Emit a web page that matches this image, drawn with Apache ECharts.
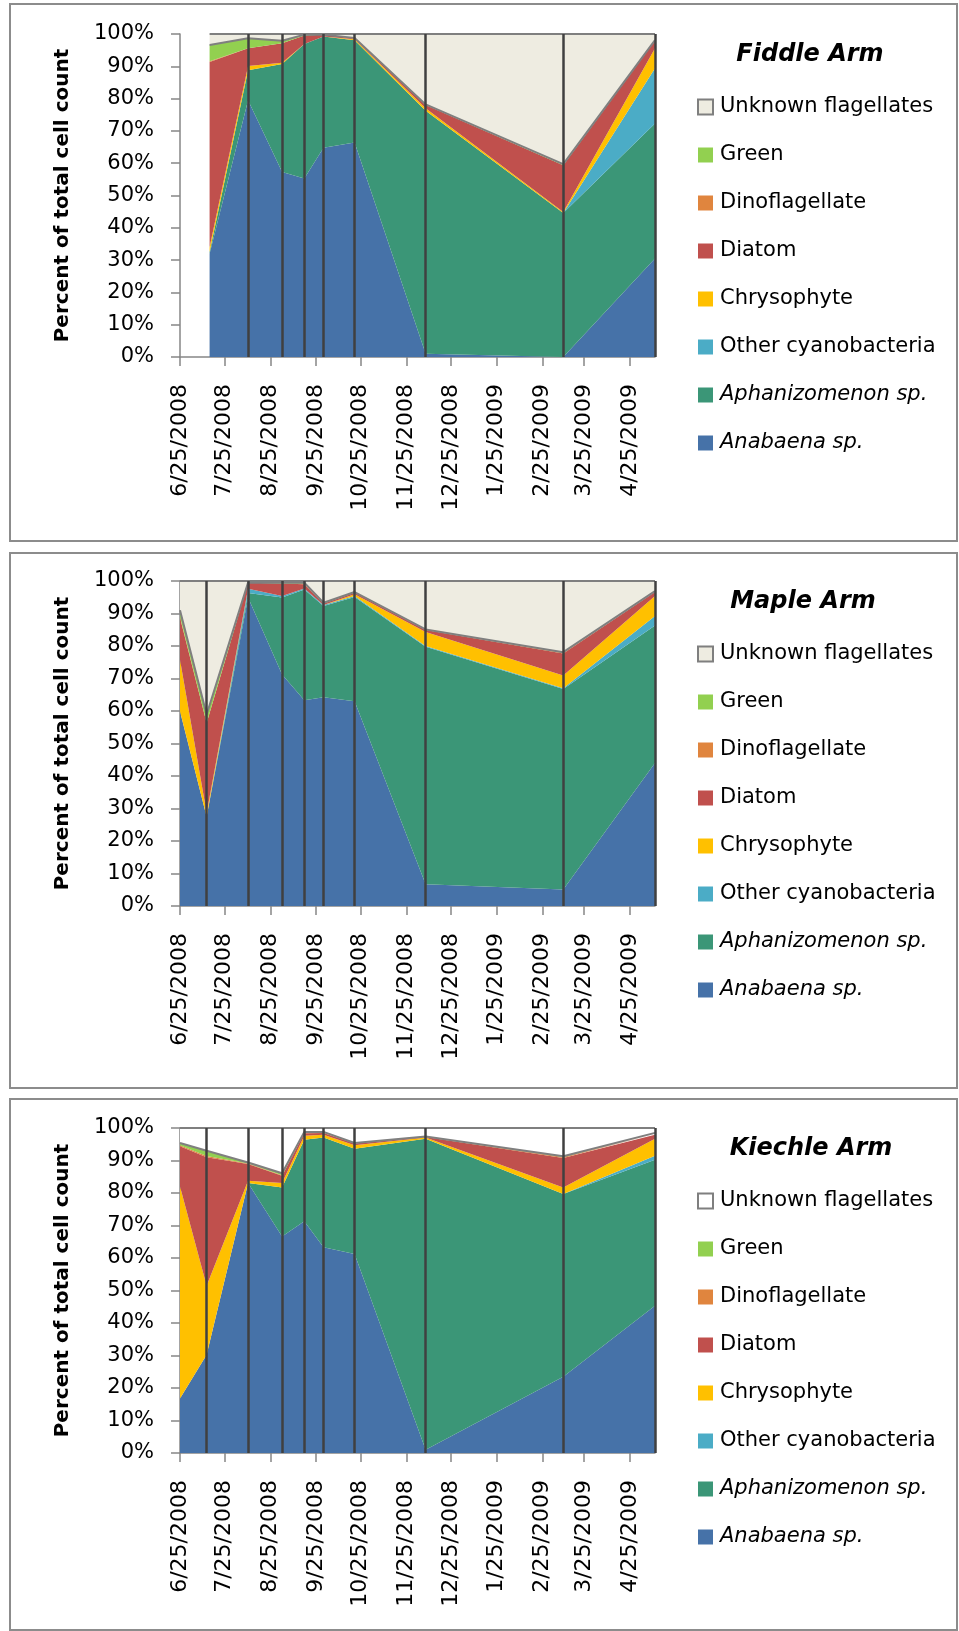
<!DOCTYPE html>
<html>
<head>
<meta charset="utf-8">
<title>Percent of total cell count by arm</title>
<script src="https://cdn.jsdelivr.net/npm/echarts@6/dist/echarts.min.js"></script>
<style>
  html, body { margin: 0; padding: 0; background: #fff; }
  #chart { width: 959px; height: 1631px; }
</style>
</head>
<body>
<div id="chart"></div>
<script>
// month ticks on the x axis
const tickLabels = ['6/25/2008', '7/25/2008', '8/25/2008', '9/25/2008', '10/25/2008', '11/25/2008',
    '12/25/2008', '1/25/2009', '2/25/2009', '3/25/2009', '4/25/2009'];
const axisStart = '6/25/2008';
const axisEnd = '5/12/2009';

// sampling dates
const fiddleDates = ['7/15/2008', '8/10/2008', '9/2/2008', '9/17/2008', '9/30/2008', '10/21/2008',
    '12/8/2008', '3/11/2009', '5/12/2009'];
const mapleDates = ['6/25/2008', '7/13/2008', '8/10/2008', '9/2/2008', '9/17/2008', '9/30/2008',
    '10/21/2008', '12/8/2008', '3/11/2009', '5/12/2009'];
const kiechleDates = ['6/25/2008', '7/13/2008', '8/10/2008', '9/2/2008', '9/17/2008', '9/30/2008',
    '10/21/2008', '12/8/2008', '3/11/2009', '5/12/2009'];

// Fiddle Arm, percent of total cell count
const fiddleAnabaena = [32.0, 79.5, 57.3, 55.3, 64.8, 66.4, 1.0, 0, 30.5];
const fiddleAphanizomenon = [0.5, 9.3, 33.4, 41.6, 34.4, 31.7, 75.2, 44.6, 41.8];
const fiddleOtherCyano = [0, 0, 0, 0, 0, 0, 0, 0, 17.1];
const fiddleChrysophyte = [1.5, 1.3, 0.4, 0, 0, 0.3, 0.8, 0.3, 6.2];
const fiddleDiatom = [57.3, 5.5, 6.0, 2.6, 0.6, 0.2, 1.0, 14.5, 2.3];
const fiddleDinoflagellate = [0.3, 0, 0, 0, 0, 0.2, 0.2, 0, 0];
const fiddleGreen = [5.0, 3.1, 0.8, 0.3, 0, 0, 0, 0.3, 0.2];
const fiddleUnknown = [3.4, 1.3, 2.1, 0.2, 0.2, 1.2, 21.8, 40.3, 1.9];

// Maple Arm
const mapleAnabaena = [59.9, 27.5, 94.9, 71.2, 63.3, 64.2, 63.0, 6.7, 5.1, 44.0];
const mapleAphanizomenon = [0, 0, 1.4, 23.7, 34.1, 28.1, 32.1, 73.1, 61.7, 42.3];
const mapleOtherCyano = [0, 0, 1.3, 0.5, 0.3, 0.3, 0.3, 0.2, 0.2, 2.9];
const mapleChrysophyte = [15.9, 1.1, 0, 0, 0, 0, 0.5, 4.3, 3.9, 6.2];
const mapleDiatom = [12.9, 27.7, 1.9, 3.8, 1.3, 0.5, 0.5, 0.6, 6.8, 1.2];
const mapleDinoflagellate = [0.3, 0, 0, 0, 0.2, 0, 0.2, 0.1, 0.2, 0.1];
const mapleGreen = [2.0, 2.6, 0, 0.3, 0.3, 0.2, 0, 0.1, 0.2, 0.2];
const mapleUnknown = [9.0, 41.1, 0.5, 0.5, 0.5, 6.7, 3.4, 14.9, 21.9, 3.1];

// Kiechle Arm
const kiechleAnabaena = [16.8, 30.2, 83.1, 66.6, 71.3, 63.3, 61.2, 1.0, 23.5, 45.3];
const kiechleAphanizomenon = [0, 0, 0, 15.1, 25.1, 33.8, 32.4, 95.7, 56.2, 44.9];
const kiechleOtherCyano = [0, 0, 0, 0, 0, 0, 0, 0, 0, 1.3];
const kiechleChrysophyte = [65.2, 21.3, 0.7, 1.4, 1.2, 0.8, 1.1, 0.4, 2.0, 5.2];
const kiechleDiatom = [12.4, 39.5, 5.1, 2.2, 0.8, 0.6, 0.5, 0.1, 9.1, 1.2];
const kiechleDinoflagellate = [0.3, 0.4, 0.2, 0.2, 0.2, 0.1, 0.1, 0.1, 0.3, 0.3];
const kiechleGreen = [0.7, 1.6, 0.3, 0.6, 0.2, 0.2, 0.1, 0.1, 0.2, 0.3];
const kiechleUnknown = [4.6, 7.0, 10.6, 13.9, 1.2, 1.2, 4.6, 2.6, 8.7, 1.5];

// stacking order, bottom to top
const seriesNames = ['Anabaena sp.', 'Aphanizomenon sp.', 'Other cyanobacteria', 'Chrysophyte',
    'Diatom', 'Dinoflagellate', 'Green', 'Unknown flagellates'];
const seriesColors = ['#4672A8', '#3B9677', '#4BACC6', '#FFC000', '#C0504D', '#E0853E', '#92D050', '#EEECE1'];
const italicNames = ['Anabaena sp.', 'Aphanizomenon sp.'];

const FONT = 'DejaVu Sans';
const GREY = '#868686';

function toTime(s) {
    const [m, d, y] = s.split('/').map(Number);
    return Date.UTC(y, m - 1, d);
}

const tickTimes = tickLabels.map(toTime);
const labelFor = {};
tickLabels.forEach((t, i) => { labelFor[tickTimes[i]] = t; });

const panels = [
    {
        title: 'Fiddle Arm', titleX: 810, top: 34, height: 323, unknownFill: '#EEECE1',
        dates: fiddleDates,
        values: [fiddleAnabaena, fiddleAphanizomenon, fiddleOtherCyano, fiddleChrysophyte,
            fiddleDiatom, fiddleDinoflagellate, fiddleGreen, fiddleUnknown]
    },
    {
        title: 'Maple Arm', titleX: 803, top: 581, height: 325, unknownFill: '#EEECE1',
        dates: mapleDates,
        values: [mapleAnabaena, mapleAphanizomenon, mapleOtherCyano, mapleChrysophyte,
            mapleDiatom, mapleDinoflagellate, mapleGreen, mapleUnknown]
    },
    {
        title: 'Kiechle Arm', titleX: 811, top: 1128, height: 325, unknownFill: '#FFFFFF',
        dates: kiechleDates,
        values: [kiechleAnabaena, kiechleAphanizomenon, kiechleOtherCyano, kiechleChrysophyte,
            kiechleDiatom, kiechleDinoflagellate, kiechleGreen, kiechleUnknown]
    }
];

const grid = [], xAxis = [], yAxis = [], series = [], legend = [], graphic = [];

// panel frames
[[4, 537], [553, 535], [1099, 531]].forEach(([y, h]) => {
    graphic.push({
        type: 'rect', silent: true,
        shape: { x: 10, y: y, width: 947, height: h },
        style: { fill: 'none', stroke: '#8C8C8C', lineWidth: 2 }
    });
});

panels.forEach((p, idx) => {
    grid.push({ left: 180, top: p.top, width: 475, height: p.height });

    // time axis carries the data (so the stack is on y) ...
    xAxis.push({
        gridIndex: idx,
        type: 'time',
        position: 'bottom',
        min: toTime(axisStart),
        max: toTime(axisEnd),
        axisLine: { show: true, lineStyle: { color: GREY, width: 1.5 } },
        axisTick: { show: false },
        axisLabel: { show: false },
        splitLine: { show: false }
    });
    // ... and an overlaid value axis draws the ticks on the 25th of each month
    xAxis.push({
        gridIndex: idx,
        type: 'value',
        position: 'bottom',
        min: toTime(axisStart),
        max: toTime(axisEnd),
        axisLine: { show: false },
        axisTick: { show: true, length: 9, customValues: tickTimes, lineStyle: { color: GREY, width: 1.5 } },
        axisLabel: {
            customValues: tickTimes,
            rotate: 90,
            margin: 27,
            fontFamily: FONT,
            fontSize: 22,
            color: '#000',
            formatter: v => labelFor[v] || ''
        },
        splitLine: { show: false }
    });

    yAxis.push({
        gridIndex: idx,
        type: 'value',
        min: 0,
        max: 100,
        interval: 10,
        name: 'Percent of total cell count',
        nameLocation: 'middle',
        nameRotate: 90,
        nameGap: 107,
        nameTextStyle: { fontFamily: FONT, fontWeight: 'bold', fontSize: 20, color: '#000' },
        axisLine: { show: true, lineStyle: { color: GREY, width: 1.5 } },
        axisTick: { show: true, length: 9, lineStyle: { color: GREY, width: 1.5 } },
        axisLabel: { formatter: '{value}%', margin: 26, fontFamily: FONT, fontSize: 21, color: '#000' },
        splitLine: { show: false }
    });

    p.values.forEach((vals, i) => {
        const name = seriesNames[i];
        const isUnknown = name === 'Unknown flagellates';
        const isGreen = name === 'Green';
        const fill = isUnknown ? p.unknownFill : seriesColors[i];
        const s = {
            name: name,
            type: 'line',
            xAxisIndex: idx * 2,
            yAxisIndex: idx,
            stack: 'arm' + idx,
            symbol: 'none',
            color: fill,
            data: p.dates.map((d, k) => [toTime(d), vals[k]]),
            areaStyle: { color: fill, opacity: 1 },
            lineStyle: { width: 0 },
            emphasis: { disabled: true },
            silent: true,
            animation: false
        };
        if (isUnknown) {
            s.lineStyle = { color: '#7F7F7F', width: 2 };
        }
        if (isGreen) {
            // grey edge along the top of the counted groups, plus the sampling-date lines
            s.lineStyle = { color: '#7F7F7F', width: 2 };
            s.z = 3;
            s.markLine = {
                silent: true,
                animation: false,
                symbol: ['none', 'none'],
                label: { show: false },
                lineStyle: { color: '#404040', width: 2.5, type: 'solid' },
                data: p.dates.slice(1).map(d => ({ xAxis: toTime(d) }))
            };
        }
        series.push(s);
    });

    legend.push({
        orient: 'vertical',
        left: 692,
        top: p.top + 56,
        icon: 'rect',
        itemWidth: 15,
        itemHeight: 15,
        itemGap: 24,
        selectedMode: false,
        textStyle: {
            fontFamily: FONT, fontSize: 21, color: '#000', lineHeight: 24, padding: [0, 0, 0, 2],
            rich: { i: { fontFamily: FONT, fontSize: 21, color: '#000', lineHeight: 24, fontStyle: 'italic' } }
        },
        formatter: name => italicNames.includes(name) ? '{i|' + name + '}' : name,
        data: seriesNames.slice().reverse().map(name => {
            const i = seriesNames.indexOf(name);
            const isUnknown = name === 'Unknown flagellates';
            return {
                name: name,
                itemStyle: {
                    color: isUnknown ? p.unknownFill : seriesColors[i],
                    borderColor: isUnknown ? '#7F7F7F' : seriesColors[i],
                    borderWidth: isUnknown ? 2 : 0
                }
            };
        })
    });

    graphic.push({
        type: 'text', silent: true,
        style: {
            x: p.titleX, y: p.top + 21, text: p.title,
            align: 'center', verticalAlign: 'middle',
            fontFamily: FONT, fontSize: 24, fontWeight: 'bold', fontStyle: 'italic', fill: '#000'
        }
    });
});

const chart = echarts.init(document.getElementById('chart'));
chart.setOption({
    animation: false,
    backgroundColor: '#fff',
    grid: grid,
    xAxis: xAxis,
    yAxis: yAxis,
    legend: legend,
    series: series,
    graphic: graphic
});
</script>
</body>
</html>
